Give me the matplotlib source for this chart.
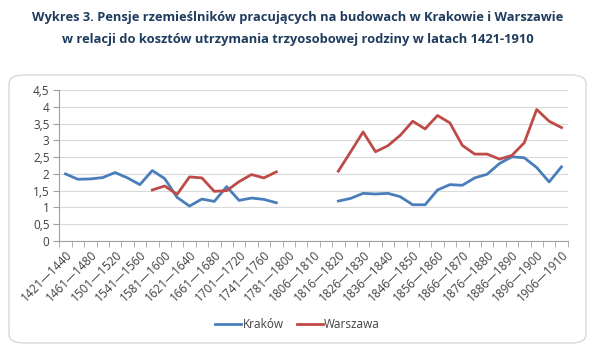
import numpy as np
import matplotlib
matplotlib.use("Agg")
import matplotlib.pyplot as plt
from matplotlib.patches import FancyBboxPatch

# kategorie: okresy 20-letnie do 1800, potem 5-letnie
periods = [f"{y}—{y + 19}" for y in range(1421, 1800, 20)]
periods += [f"{y}—{y + 4}" for y in range(1801, 1910, 5)]

nan = np.nan
krakow = [2.00, 1.84, 1.85, 1.89, 2.04, 1.88, 1.68, 2.10, 1.86, 1.30,
          1.04, 1.25, 1.18, 1.62, 1.21, 1.28, 1.24, 1.14, nan,
          nan, nan, nan, 1.19, 1.27, 1.42, 1.40, 1.42, 1.32, 1.08, 1.08,
          1.52, 1.68, 1.66, 1.88, 1.99, 2.31, 2.51, 2.48, 2.19, 1.76, 2.21]
warszawa = [nan, nan, nan, nan, nan, nan, nan, 1.52, 1.64, 1.39,
            1.91, 1.88, 1.48, 1.50, 1.77, 1.98, 1.88, 2.06, nan,
            nan, nan, nan, 2.08, 2.66, 3.25, 2.66, 2.84, 3.15, 3.57, 3.34,
            3.74, 3.52, 2.85, 2.59, 2.59, 2.44, 2.55, 2.93, 3.92, 3.57, 3.38]

y_ticks = [0, 0.5, 1, 1.5, 2, 2.5, 3, 3.5, 4, 4.5]

plt.rcParams['font.family'] = ['Open Sans', 'DejaVu Sans']

dpi = 100
fig = plt.figure(figsize=(595 / dpi, 359 / dpi), dpi=dpi)
fig.patch.set_facecolor("white")

# ramka wykresu (zaokraglona)
frame = FancyBboxPatch((9 / 595, 1 - 343 / 359), 577 / 595, 268 / 359,
                       boxstyle="round,pad=0,rounding_size=0.025",
                       transform=fig.transFigure, facecolor="none",
                       edgecolor="#D9D9D9", linewidth=1.0, zorder=-1)
fig.patches.append(frame)

fig.text(0.5, 1 - 17 / 359, "Wykres 3. Pensje rzemieślników pracujących na budowach w Krakowie i Warszawie",
         ha="center", va="center", fontsize=9.3, fontweight="bold", color="#1F3B5E")
fig.text(0.5, 1 - 39 / 359, "w relacji do kosztów utrzymania trzyosobowej rodziny w latach 1421-1910",
         ha="center", va="center", fontsize=9.3, fontweight="bold", color="#1F3B5E")

ax = fig.add_axes([59.3 / 595, 1 - 241 / 359, 508.4 / 595, 151 / 359])
ax.set_facecolor("none")

x = np.arange(len(periods))
ax.plot(x, krakow, color="#4A7EBB", linewidth=2.0, label="Kraków")
ax.plot(x, warszawa, color="#BE4B48", linewidth=2.0, label="Warszawa")

ax.set_xlim(-0.5, len(periods) - 0.5)
ax.set_ylim(0, 4.5)
ax.set_yticks(y_ticks)
ax.set_yticklabels([f"{v:g}".replace(".", ",") for v in y_ticks])
ax.grid(axis="y", color="#D9D9D9", linewidth=0.8)
ax.set_axisbelow(True)

ax.set_xticks(x[::2])
ax.set_xticklabels(periods[::2], rotation=45, ha="right", rotation_mode="anchor")
ax.set_xticks(np.arange(-0.5, len(periods), 1), minor=True)
ax.tick_params(axis="x", which="major", length=0, labelsize=8.5, colors="#404040", pad=5)
ax.tick_params(axis="x", which="minor", length=4, color="#A0A0A0")
ax.tick_params(axis="y", length=4, color="#A0A0A0", labelsize=8.5, labelcolor="#404040", pad=3)

for side in ["top", "right"]:
    ax.spines[side].set_visible(False)
for side in ["left", "bottom"]:
    ax.spines[side].set_color("#A0A0A0")

fig.legend(loc="center", bbox_to_anchor=(0.5, 1 - 325 / 359), ncol=2, frameon=False,
           fontsize=8.5, handlelength=2.2, handletextpad=0.1, columnspacing=1.1,
           labelcolor="#404040")

fig.savefig("out.png", dpi=dpi, facecolor="white")
plt.close(fig)
